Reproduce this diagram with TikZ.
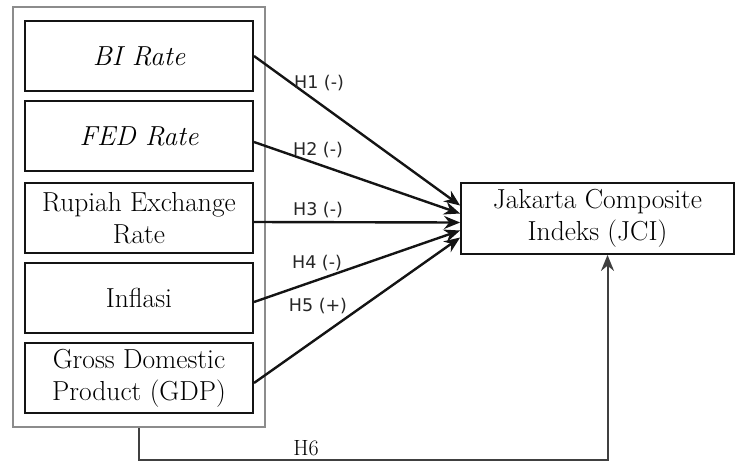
\documentclass[tikz,border=0pt]{standalone}
\usepackage{fontspec}
\newfontfamily\hfont{DejaVu Sans}
\usetikzlibrary{arrows.meta}
\definecolor{Frame}{RGB}{140,140,140}
\definecolor{Link}{RGB}{20,20,20}
\tikzset{
  varbox/.style={draw=Link, line width=2pt, minimum width=228pt, minimum height=70pt,
    inner sep=0pt, align=center, font=\fontsize{27.5}{32}\selectfont},
  hyp/.style={font=\hfont\fontsize{17.5}{20}\selectfont, text=black!85},
  link/.style={draw=Link, line width=2.4pt, ->},
}

\begin{document}
\begin{tikzpicture}[x=1pt,y=-1pt,>={Stealth[length=16pt,width=13pt]}]
\useasboundingbox (0,0) rectangle (735,461);
\node[draw=Frame, line width=1.6pt, minimum width=252pt, minimum height=420pt, inner sep=0pt] (outer) at (139,217) {};

\node[varbox] (bi) at (139,56) {\itshape BI Rate};
\node[varbox] (fed) at (139,136) {\itshape FED Rate};
\node[varbox] (kurs) at (139,218) {Rupiah Exchange\\Rate};
\node[varbox] (infl) at (139,298) {Inflasi};
\node[varbox] (gdp) at (139,378) {Gross Domestic\\Product (GDP)};

\node[draw=Link, line width=1.8pt, minimum width=273pt, minimum height=71pt, inner sep=0pt,
  align=center, font=\fontsize{27.5}{32}\selectfont] (jci) at (597.5,218.5) {Jakarta Composite\\Indeks (JCI)};

\draw[link] (bi.east) -- ([yshift=13pt]jci.west);
\draw[link] ([yshift=-6pt]fed.east) -- ([yshift=5pt]jci.west);
\draw[link] ([yshift=-4pt]kurs.east) -- ([yshift=-4pt]jci.west);
\draw[link] ([yshift=-4pt]infl.east) -- ([yshift=-12pt]jci.west);
\draw[link] ([yshift=-5pt]gdp.east) -- ([yshift=-19pt]jci.west);
\draw[draw=black!75, line width=2pt, ->] (outer.south) -- ++(0,32) -| ([xshift=10pt]jci.south);

\node[hyp] (h1) at (319,83) {H1 (-)};
\node[hyp] (h2) at (318,150) {H2 (-)};
\node[hyp] (h3) at (318,210) {H3 (-)};
\node[hyp] (h4) at (317,263) {H4 (-)};
\node[hyp] (h5) at (318,306) {H5 (+)};
\node[font=\fontsize{22}{24}\selectfont] (h6) at (306,448) {H6};
\end{tikzpicture}
\end{document}
